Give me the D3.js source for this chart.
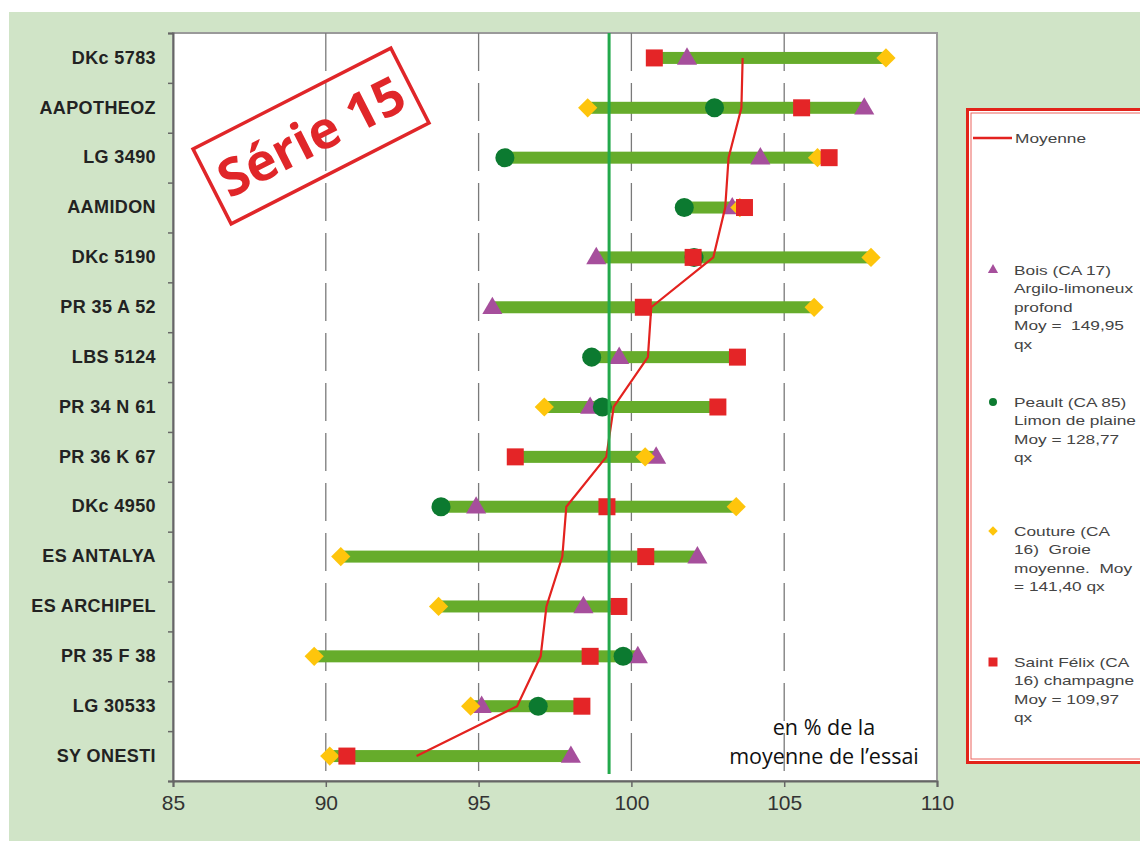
<!DOCTYPE html>
<html><head><meta charset="utf-8">
<script src="https://cdn.jsdelivr.net/npm/d3@7"></script>
<style>body{margin:0;background:#fff}svg{display:block}</style>
</head><body><svg id="c" width="1140" height="841"></svg>
<script>
// ---- data ----
const categories = ["DKc 5783","AAPOTHEOZ","LG 3490","AAMIDON","DKc 5190","PR 35 A 52","LBS 5124","PR 34 N 61","PR 36 K 67","DKc 4950","ES ANTALYA","ES ARCHIPEL","PR 35 F 38","LG 30533","SY ONESTI"];
const bois    = [101.82,107.62,104.22,103.30, 98.85, 95.45, 99.60, 98.65,100.81, 94.92,102.16, 98.43,100.21, 95.10, 98.02];
const peault  = [null,  102.72, 95.86,101.73,102.05, null,   98.70, 99.05, null,   93.77, null,   null,   99.73, 96.95, null];
const couture = [108.33, 98.57,106.09,103.55,107.84,105.98, null,   97.15,100.45,103.43, 90.49, 93.69, 89.62, 94.74, 90.13];
const stFelix = [100.75,105.57,106.47,103.70,102.02,100.39,103.47,102.83, 96.20, 99.20,100.47, 99.59, 98.65, 98.38, 90.69];
const moyenne = [103.64,103.60,103.18,103.07,102.68,100.65,100.54, 99.42, 99.18, 97.87, 97.74, 97.22, 97.03, 96.26, 92.97];
const refLine = 99.27;
const xTicks = [85,90,95,100,105,110];
const gridTicks = [90,95,100,105];
const seriesNames = ["Bois","Peault","Couture","Saint Félix"];
const legendTexts = [
  ["Bois (CA 17)","Argilo-limoneux","profond","Moy =  149,95","qx"],
  ["Peault (CA 85)","Limon de plaine","Moy = 128,77","qx"],
  ["Couture (CA","16)  Groie","moyenne.  Moy","= 141,40 qx"],
  ["Saint Félix (CA","16) champagne","Moy = 109,97","qx"]
];
const meanLabel = "Moyenne";
const noteLines = ["en % de la","moyenne de l’essai"];
const stampText = "Série 15";

// ---- drawing ----
const W=1140,H=841;
const svg=d3.select("#c");
svg.append("rect").attr("x",9).attr("y",12).attr("width",W-9).attr("height",H-12).attr("fill","#d0e4c7");
const M={l:173,r:937,t:33,b:781};
const x=d3.scaleLinear().domain([85,110]).range([M.l,M.r]);
const y=d3.scaleBand().domain(categories).range([M.t,M.b]);
const yc=d=>y(d)+y.bandwidth()/2;

svg.append("rect").attr("x",M.l).attr("y",M.t).attr("width",M.r-M.l).attr("height",M.b-M.t)
  .attr("fill","#fff").attr("stroke","#9a9a9a").attr("stroke-width",2);

// grid
svg.append("g").selectAll("line").data(gridTicks).join("line")
  .attr("x1",d=>x(d)).attr("x2",d=>x(d)).attr("y1",M.t).attr("y2",M.b)
  .attr("stroke","#7a7a7a").attr("stroke-width",1.3).attr("stroke-dasharray","38,12");

// axes
const gx=svg.append("g").attr("transform",`translate(0,${M.b})`)
  .call(d3.axisBottom(x).tickValues(xTicks).tickSize(6).tickPadding(8).tickFormat(d3.format("d")));
gx.select(".domain").attr("stroke","#666").attr("stroke-width",2);
gx.selectAll(".tick line").attr("stroke","#666").attr("stroke-width",1.5);
gx.selectAll(".tick text").attr("font-family","Liberation Sans, Arial, sans-serif").attr("font-size",21).attr("fill","#333");

const yb=d3.scaleLinear().domain([0,categories.length]).range([M.t,M.b]);
const gyt=svg.append("g").attr("transform",`translate(${M.l},0)`)
  .call(d3.axisLeft(yb).tickValues(d3.range(categories.length+1)).tickSize(5).tickFormat(""));
gyt.select(".domain").attr("stroke","#666").attr("stroke-width",2);
gyt.selectAll(".tick line").attr("stroke","#666").attr("stroke-width",1.5);

const gyl=svg.append("g").attr("transform",`translate(${M.l},0)`)
  .call(d3.axisLeft(y).tickSize(0).tickPadding(17));
gyl.select(".domain").remove();
gyl.selectAll(".tick text").attr("font-family","Liberation Sans, Arial, sans-serif").attr("font-weight","bold")
  .attr("font-size",18).attr("letter-spacing","0.4px").attr("fill","#222");

// bars
const rows=categories.map((c,i)=>{
  const vals=[bois[i],peault[i],couture[i],stFelix[i]].filter(v=>v!=null);
  return {c,min:d3.min(vals),max:d3.max(vals)};
});
svg.append("g").selectAll("rect").data(rows).join("rect")
  .attr("x",d=>x(d.min)).attr("width",d=>x(d.max)-x(d.min))
  .attr("y",d=>yc(d.c)-6).attr("height",12).attr("fill","#66ac2b");

// markers
const series=[
  {vals:bois,color:"#a64f9c",type:d3.symbolTriangle,size:175,rot:0,dy:1},
  {vals:peault,color:"#0c7a30",type:d3.symbolCircle,size:285,rot:0,dy:0},
  {vals:couture,color:"#fec50c",type:d3.symbolSquare,size:185,rot:45,dy:0},
  {vals:stFelix,color:"#e42527",type:d3.symbolSquare,size:289,rot:0,dy:0}
];
series.forEach(s=>{
  const pts=categories.map((c,i)=>({c,v:s.vals[i]})).filter(d=>d.v!=null);
  svg.append("g").selectAll("path").data(pts).join("path")
    .attr("d",d3.symbol().type(s.type).size(s.size))
    .attr("transform",d=>`translate(${x(d.v)},${yc(d.c)+s.dy}) rotate(${s.rot})`)
    .attr("fill",s.color);
});

// mean line
svg.append("path").datum(categories.map((c,i)=>({c,v:moyenne[i]})))
  .attr("d",d3.line().x(d=>x(d.v)).y(d=>yc(d.c)))
  .attr("fill","none").attr("stroke","#e3221f").attr("stroke-width",2.2);

// reference line
svg.append("line").attr("x1",x(refLine)).attr("x2",x(refLine)).attr("y1",M.t).attr("y2",774)
  .attr("stroke","#23a94b").attr("stroke-width",3);

// note
svg.append("g").selectAll("text").data(noteLines).join("text")
  .attr("x",824).attr("y",(d,i)=>735+i*29).attr("text-anchor","middle")
  .attr("font-family","Open Sans, sans-serif").attr("font-size",21.5).attr("fill","#111").text(d=>d);

// stamp
const st=svg.append("g").attr("transform","translate(311,136) rotate(-27)");
st.append("rect").attr("x",-111).attr("y",-42).attr("width",222).attr("height",84)
  .attr("fill","none").attr("stroke","#e02629").attr("stroke-width",3.5);
st.append("text").attr("x",0).attr("y",19).attr("text-anchor","middle")
  .attr("font-family","Open Sans, sans-serif").attr("font-weight","bold").attr("font-size",52)
  .attr("fill","#e02629").text(stampText);

// legend
svg.append("rect").attr("x",967.5).attr("y",109.5).attr("width",200).attr("height",653)
  .attr("fill","#fff").attr("stroke","#e2231a").attr("stroke-width",3);
svg.append("rect").attr("x",971).attr("y",113).attr("width",200).attr("height",646)
  .attr("fill","none").attr("stroke","#e2231a").attr("stroke-width",1).attr("opacity",0.7);
const lg=svg.append("g");
lg.append("line").attr("x1",973).attr("x2",1012).attr("y1",138).attr("y2",138).attr("stroke","#e3221f").attr("stroke-width",2.5);
const legText=(tx,ty,str)=>lg.append("text").attr("transform",`translate(${tx},${ty}) scale(1.33,1)`)
  .attr("font-family","Liberation Sans, Arial, sans-serif").attr("font-size",13).attr("fill","#444")
  .style("white-space","pre").text(str);
legText(1015,142.5,meanLabel);
const legY=[270,402,531,662];
const legSym=[
  {type:d3.symbolTriangle,size:45,rot:0},
  {type:d3.symbolCircle,size:50,rot:0},
  {type:d3.symbolSquare,size:45,rot:45},
  {type:d3.symbolSquare,size:81,rot:0}
];
legendTexts.forEach((lines,k)=>{
  lg.append("path").attr("d",d3.symbol().type(legSym[k].type).size(legSym[k].size))
    .attr("transform",`translate(993,${legY[k]}) rotate(${legSym[k].rot})`).attr("fill",series[k].color);
  lines.forEach((t,j)=>legText(1014,legY[k]+4.5+j*18.6,t));
});
</script></body></html>
